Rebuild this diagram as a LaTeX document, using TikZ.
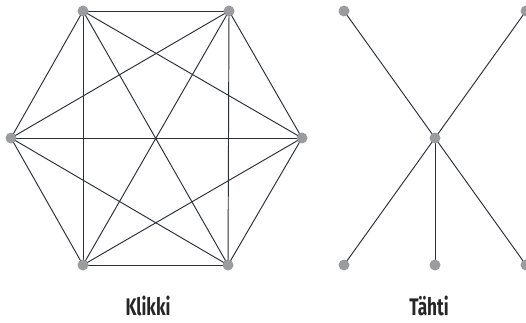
\documentclass[tikz,border=0pt]{standalone}
\usepackage{fontspec}
\setmainfont{Fira Sans}[FakeStretch=0.72]
\begin{document}
\begin{tikzpicture}[x=1pt,y=-1pt,
  vtx/.style={circle,fill=dotgray,draw=none,minimum size=11pt,inner sep=0pt},
  edge/.style={draw=linecol,line width=0.95pt},
  lbl/.style={font=\fontsize{24}{26}\selectfont\bfseries,text=black!85,inner sep=0pt}]
\definecolor{dotgray}{HTML}{9A9CA0}
\definecolor{linecol}{HTML}{2B2D3A}
\useasboundingbox (0,0) rectangle (526,323);
% clique
\coordinate (a) at (83,11);
\coordinate (b) at (229,11);
\coordinate (c) at (302,138);
\coordinate (d) at (228,265);
\coordinate (e) at (83,265);
\coordinate (f) at (11,138);
\foreach \u/\v in {a/b,a/c,a/d,a/e,a/f,b/c,b/d,b/e,b/f,c/d,c/e,c/f,d/e,d/f,e/f}
  \draw[edge] (\u) -- (\v);
\foreach \p in {a,b,c,d,e,f}
  \node[vtx] (n\p) at (\p) {};
% star
\coordinate (s) at (435,138);
\coordinate (l1) at (344,11);
\coordinate (l2) at (526,11);
\coordinate (l3) at (344,265);
\coordinate (l4) at (435,265);
\coordinate (l5) at (526,265);
\foreach \p in {l1,l2,l3,l4,l5}
  \draw[edge] (s) -- (\p);
\foreach \p in {s,l1,l2,l3,l4,l5}
  \node[vtx] (n\p) at (\p) {};
% labels
\node[lbl,anchor=base] (klikki) at (148,315.5) {Klikki};
\node[lbl,anchor=base] (tahti) at (429,315.5) {Tähti};
\end{tikzpicture}
\end{document}
